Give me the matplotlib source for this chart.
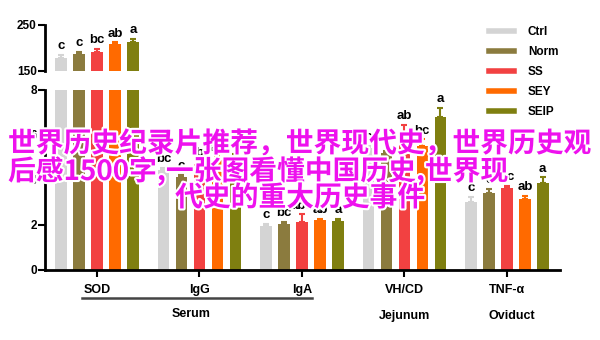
import matplotlib
matplotlib.use("Agg")
import matplotlib.pyplot as plt
import matplotlib.patheffects as pe
from matplotlib.lines import Line2D
from matplotlib.transforms import blended_transform_factory
import numpy as np

groups = ['SOD', 'IgG', 'IgA', 'VH/CD', 'TNF-α']
series = ['Ctrl', 'Norm', 'SS', 'SEY', 'SEIP']

# values (SOD is on the upper, broken axis)
ctrl = [178, 4.45, 1.95, 5.4, 3.04]
norm = [186, 4.15, 2.05, 5.2, 3.44]
ss = [192, 4.7, 2.12, 6.1, 3.63]
sey = [209, 4.9, 2.2, 5.5, 3.14]
seip = [213, 5.0, 2.18, 6.8, 3.85]

ctrl_err = [7, 0.1, 0.1, 0.1, 0.2]
norm_err = [6, 0.07, 0.1, 0.1, 0.15]
ss_err = [6.5, 0.1, 0.35, 0.35, 0.1]
sey_err = [3, 0.15, 0.08, 0.3, 0.15]
seip_err = [6.5, 0.15, 0.08, 0.4, 0.27]

ctrl_lab = ['c', 'bc', 'c', 'c', 'c']
norm_lab = ['c', 'c', 'bc', 'c', 'c']
ss_lab = ['bc', 'b', 'abc', 'ab', 'bc']
sey_lab = ['ab', 'ab', 'ab', 'bc', 'ab']
seip_lab = ['a', 'a', 'a', 'a', 'a']

colors = ['#d4d4d4', '#8b7b3e', '#f24141', '#ff6a00', '#7f7f10']

tissues = ['Serum', 'Jejunum', 'Oviduct']

overlay = ['世界历史纪录片推荐，世界现代史，世界历史观',
           '后感1500字,一张图看懂中国历史,世界现',
           '代史的重大历史事件']

plt.rcParams['font.family'] = ['Liberation Sans', 'DejaVu Sans']
plt.rcParams['font.weight'] = 'bold'

fig = plt.figure(figsize=(6, 3.4), dpi=100)
ax_top = fig.add_axes([0.075, 0.7912, 0.858, 0.1353])
ax_bot = fig.add_axes([0.075, 0.2059, 0.858, 0.5294])

vals = [ctrl, norm, ss, sey, seip]
errs = [ctrl_err, norm_err, ss_err, sey_err, seip_err]
labs = [ctrl_lab, norm_lab, ss_lab, sey_lab, seip_lab]

x = np.arange(len(groups))
step = 0.1756
width = 0.112

for i in range(len(series)):
    xs = x + (i - 2) * step
    for ax in [ax_top, ax_bot]:
        ax.bar(xs, vals[i], width, color=colors[i])
        ax.errorbar(xs, vals[i], yerr=[np.zeros(len(groups)), errs[i]], fmt='none',
                    ecolor=colors[i], elinewidth=1.5, capsize=2.5, capthick=1.5)
    for j in range(len(groups)):
        ax = ax_top if vals[i][j] > 8 else ax_bot
        ax.annotate(labs[i][j], (xs[j], vals[i][j] + errs[i][j]), xytext=(0, 2),
                    textcoords='offset points', ha='center', va='bottom',
                    fontsize=9.5, fontweight='bold')

for ax in [ax_top, ax_bot]:
    ax.set_xlim(-0.507, 4.517)
    for s in ['top', 'right']:
        ax.spines[s].set_visible(False)
    ax.spines['left'].set_linewidth(2)
    ax.tick_params(axis='y', length=5, width=1.5, labelsize=8.5, pad=1)

ax_top.set_ylim(150, 250)
ax_top.set_yticks([150, 250])
ax_top.spines['bottom'].set_visible(False)
ax_top.set_xticks([])

ax_bot.set_ylim(0, 8)
ax_bot.set_yticks([0, 2, 4, 6, 8])
ax_bot.spines['bottom'].set_linewidth(2)
ax_bot.set_xticks(x)
ax_bot.set_xticklabels(groups, fontsize=9, fontweight='bold')
ax_bot.tick_params(axis='x', length=5, width=1.5, pad=5)

# tissue labels under the groups
trans = blended_transform_factory(ax_bot.transData, fig.transFigure)
ax_bot.plot([-0.146, 2.098], [0.1235, 0.1235], color='#444444', lw=1.8,
            transform=trans, clip_on=False)
ax_bot.text(0.92, 0.077, tissues[0], transform=trans, ha='center', va='center',
            fontsize=9, fontweight='bold')
ax_bot.text(3, 0.072, tissues[1], transform=trans, ha='center', va='center',
            fontsize=9, fontweight='bold')
ax_bot.text(4.05, 0.072, tissues[2], transform=trans, ha='center', va='center',
            fontsize=9, fontweight='bold')

handles = [Line2D([0], [0], color=c, lw=4) for c in colors]
fig.legend(handles, series, loc='upper left', bbox_to_anchor=(0.797, 0.955),
           frameon=False, handlelength=2.1, labelspacing=0.68,
           handletextpad=1.2, prop={'weight': 'bold', 'size': 8.5})

# magenta overlay text
stroke = [pe.withStroke(linewidth=3, foreground='white')]
cjk = ['Noto Sans CJK SC', 'DejaVu Sans']
fig.text(8 / 600, 1 - 144 / 340, overlay[0], color='#ee11ee', fontsize=20,
         family=cjk, weight='bold', ha='left', va='center', path_effects=stroke)
fig.text(8 / 600, 1 - 171 / 340, overlay[1], color='#ee11ee', fontsize=20,
         family=cjk, weight='bold', ha='left', va='center', path_effects=stroke)
fig.text(300 / 600, 1 - 198 / 340, overlay[2], color='#ee11ee', fontsize=20,
         family=cjk, weight='bold', ha='center', va='center', path_effects=stroke)

fig.savefig('out.png', dpi=100)
